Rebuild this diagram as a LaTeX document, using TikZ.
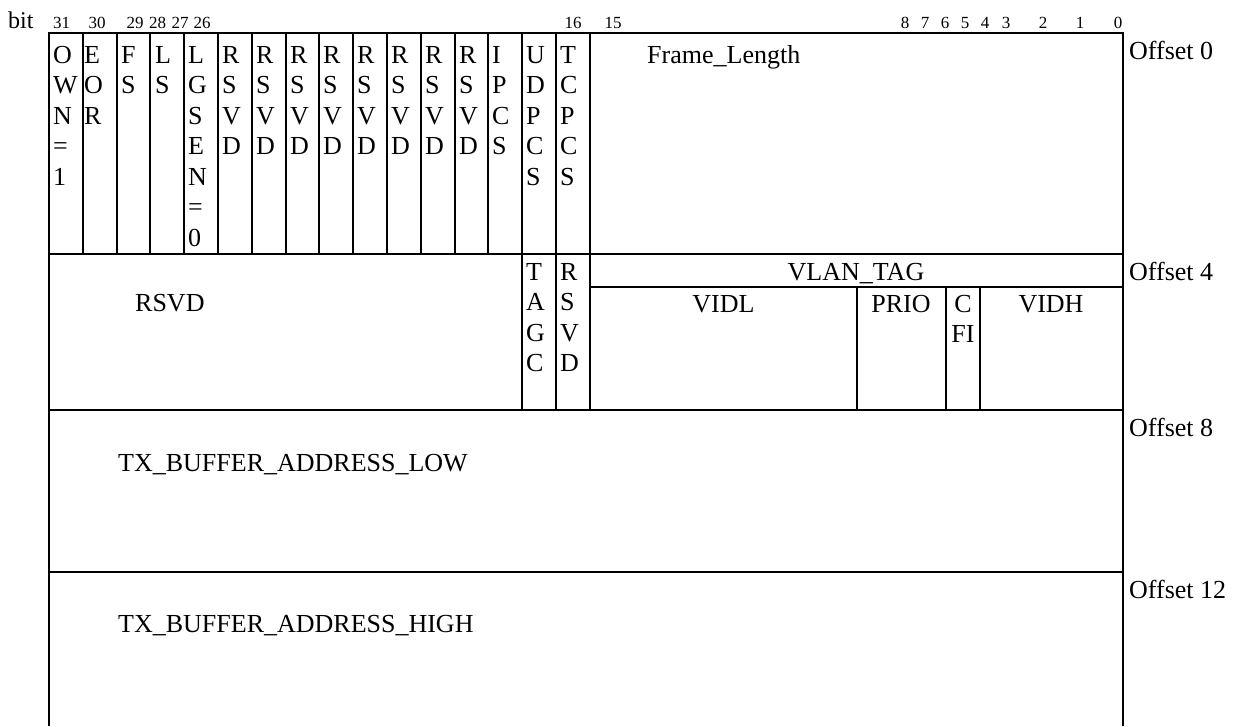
\documentclass[tikz,border=0pt]{standalone}
\usepackage{fontspec}
\setmainfont{Liberation Serif}
\begin{document}
\begin{tikzpicture}[x=1pt,y=-1pt,
  rowline/.style={black, line width=2.4pt},
  sepline/.style={black, line width=2pt},
  cell/.style={anchor=north west, align=left, inner sep=0pt, font=\fontsize{26}{30.5}\selectfont},
  label/.style={anchor=base west, inner sep=0pt, font=\fontsize{26}{30.5}\selectfont},
  field/.style={anchor=base, align=center, inner sep=0pt, font=\fontsize{26}{30.5}\selectfont},
  bitnum/.style={anchor=base, inner sep=0pt, font=\fontsize{17}{17}\selectfont},
  offs/.style={anchor=base west, inner sep=0pt, font=\fontsize{26}{26}\selectfont}]
  \useasboundingbox (0,0) rectangle (1237,726);
  \node[anchor=base west, inner sep=0pt, font=\fontsize{24}{24}\selectfont] (bit) at (8,28) {bit};
  \node[bitnum] (b31) at (61.7,28) {31};
  \node[bitnum] (b30) at (97,28) {30};
  \node[bitnum] (b29) at (135,28) {29};
  \node[bitnum] (b28) at (157.5,28) {28};
  \node[bitnum] (b27) at (180,28) {27};
  \node[bitnum] (b26) at (202,28) {26};
  \node[bitnum] (b16) at (573,28) {16};
  \node[bitnum] (b15) at (613,28) {15};
  \node[bitnum] (b8) at (905,28) {8};
  \node[bitnum] (b7) at (925,28) {7};
  \node[bitnum] (b6) at (945,28) {6};
  \node[bitnum] (b5) at (965,28) {5};
  \node[bitnum] (b4) at (985,28) {4};
  \node[bitnum] (b3) at (1006,28) {3};
  \node[bitnum] (b2) at (1043,28) {2};
  \node[bitnum] (b1) at (1080,28) {1};
  \node[bitnum] (b0) at (1118,28) {0};
  \draw[rowline] (49,726) -- (49,33) -- (1123,33) -- (1123,726);
  \draw[rowline] (49,254) -- (1123,254);
  \draw[rowline] (49,410) -- (1123,410);
  \draw[rowline] (49,572) -- (1123,572);
  \draw[sepline] (82.8,33) -- (82.8,254);
  \draw[sepline] (116.6,33) -- (116.6,254);
  \draw[sepline] (150.4,33) -- (150.4,254);
  \draw[sepline] (184.2,33) -- (184.2,254);
  \draw[sepline] (218,33) -- (218,254);
  \draw[sepline] (251.8,33) -- (251.8,254);
  \draw[sepline] (285.6,33) -- (285.6,254);
  \draw[sepline] (319.4,33) -- (319.4,254);
  \draw[sepline] (353.2,33) -- (353.2,254);
  \draw[sepline] (387,33) -- (387,254);
  \draw[sepline] (420.8,33) -- (420.8,254);
  \draw[sepline] (454.6,33) -- (454.6,254);
  \draw[sepline] (488.4,33) -- (488.4,254);
  \draw[sepline] (522.2,33) -- (522.2,410);
  \draw[sepline] (556,33) -- (556,410);
  \draw[sepline] (589.8,33) -- (589.8,410);
  \draw[sepline] (589.8,287) -- (1123,287);
  \draw[sepline] (857,287) -- (857,410);
  \draw[sepline] (946,287) -- (946,410);
  \draw[sepline] (980,287) -- (980,410);
  \node[cell] (own) at (53,45.8) {O\\W\\N\\=\\1};
  \node[cell] (eor) at (84,45.8) {E\\O\\R};
  \node[cell] (fs) at (121,45.8) {F\\S};
  \node[cell] (ls) at (155,45.8) {L\\S};
  \node[cell] (lgsen) at (188,45.8) {L\\G\\S\\E\\N\\=\\0};
  \node[cell] (rsvda) at (222,45.8) {R\\S\\V\\D};
  \node[cell] (rsvdb) at (256,45.8) {R\\S\\V\\D};
  \node[cell] (rsvdc) at (290,45.8) {R\\S\\V\\D};
  \node[cell] (rsvdd) at (323,45.8) {R\\S\\V\\D};
  \node[cell] (rsvde) at (357,45.8) {R\\S\\V\\D};
  \node[cell] (rsvdf) at (391,45.8) {R\\S\\V\\D};
  \node[cell] (rsvdg) at (425,45.8) {R\\S\\V\\D};
  \node[cell] (rsvdh) at (459,45.8) {R\\S\\V\\D};
  \node[cell] (ipcs) at (492,45.8) {I\\P\\C\\S};
  \node[cell] (udpcs) at (526,45.8) {U\\D\\P\\C\\S};
  \node[cell] (tcpcs) at (560,45.8) {T\\C\\P\\C\\S};
  \node[label] (framelen) at (647,63) {Frame\_Length};
  \node[label] (rsvdw) at (135,311) {RSVD};
  \node[cell] (tagc) at (526,262.8) {T\\A\\G\\C};
  \node[cell] (rsvdv) at (560,262.8) {R\\S\\V\\D};
  \node[field] (vlantag) at (856,280) {VLAN\_TAG};
  \node[field] (vidl) at (723.5,312) {VIDL};
  \node[field] (prio) at (901,312) {PRIO};
  \node[field, anchor=north] (cfi) at (963,294.8) {C\\FI};
  \node[field] (vidh) at (1051,312) {VIDH};
  \node[label] (txlow) at (118,471) {TX\_BUFFER\_ADDRESS\_LOW};
  \node[label] (txhigh) at (118,632) {TX\_BUFFER\_ADDRESS\_HIGH};
  \node[offs] (off0) at (1129,59) {Offset 0};
  \node[offs] (off4) at (1129,280) {Offset 4};
  \node[offs] (off8) at (1129,436) {Offset 8};
  \node[offs] (off12) at (1129,598) {Offset 12};
\end{tikzpicture}
\end{document}
